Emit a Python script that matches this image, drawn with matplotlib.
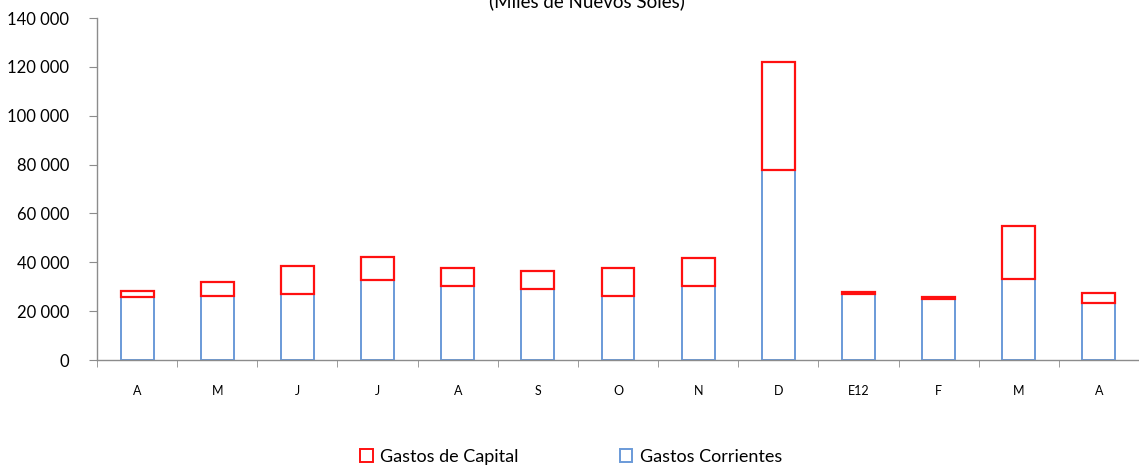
import matplotlib
matplotlib.use('Agg')
import matplotlib.pyplot as plt
from matplotlib.patches import Patch
from matplotlib.ticker import FuncFormatter, MultipleLocator
import numpy as np

plt.rcParams['font.family'] = ['Lato', 'DejaVu Sans']

meses = ['A', 'M', 'J', 'J', 'A', 'S', 'O', 'N', 'D', 'E12', 'F', 'M', 'A']
# miles de nuevos soles
corrientes = [25800, 26300, 27100, 32700, 30300, 29000, 26300, 30300, 77700, 27000, 25100, 33300, 23400]
total = [28300, 32000, 38400, 42300, 37800, 36400, 37800, 41600, 122000, 27900, 26000, 54900, 27300]
capital = [t - c for t, c in zip(total, corrientes)]

azul = '#6a9ad8'
rojo = '#ff1010'
gris = '#8c8c8c'

fig = plt.figure(figsize=(11.39, 4.67), dpi=100)
ax = fig.add_axes([0.0852, 0.229, 1.0 - 0.0852, 0.7323])

x = np.arange(len(meses))
ax.bar(x, corrientes, width=0.41, facecolor='white', edgecolor=azul, linewidth=1.4)
ax.bar(x, capital, width=0.41, bottom=corrientes, facecolor='white', edgecolor=rojo, linewidth=1.6)

# el grafico original esta recortado a la derecha
ax.set_xlim(-0.5, 12.35)
ax.set_ylim(0, 140000)
ax.yaxis.set_major_locator(MultipleLocator(20000))
ax.yaxis.set_major_formatter(FuncFormatter(lambda v, p: f'{int(v):,}'.replace(',', ' ')))

ax.set_xticks(x)
ax.set_xticklabels(meses, fontsize=9)
ax.set_xticks(np.arange(-0.5, len(meses), 1), minor=True)
ax.tick_params(axis='x', which='major', length=0, pad=18)
ax.tick_params(axis='x', which='minor', length=5, color=gris, direction='out')
ax.tick_params(axis='y', length=6, color=gris, labelsize=12, pad=14)

for s in ['top', 'right']:
    ax.spines[s].set_visible(False)
for s in ['left', 'bottom']:
    ax.spines[s].set_color(gris)
    ax.spines[s].set_linewidth(1.0)

fig.text(0.515, 0.985, '(Miles de Nuevos Soles)', ha='center', va='baseline', fontsize=13.5)

handles = [Patch(facecolor='white', edgecolor=rojo, linewidth=1.4, label='Gastos de Capital'),
           Patch(facecolor='white', edgecolor=azul, linewidth=1.4, label='Gastos Corrientes')]
fig.legend(handles=handles, loc='lower left', bbox_to_anchor=(0.302, -0.03), ncol=2,
           frameon=False, fontsize=13, handlelength=0.7, handleheight=0.7,
           handletextpad=0.4, columnspacing=5.6)

fig.savefig('out.png', dpi=100)
